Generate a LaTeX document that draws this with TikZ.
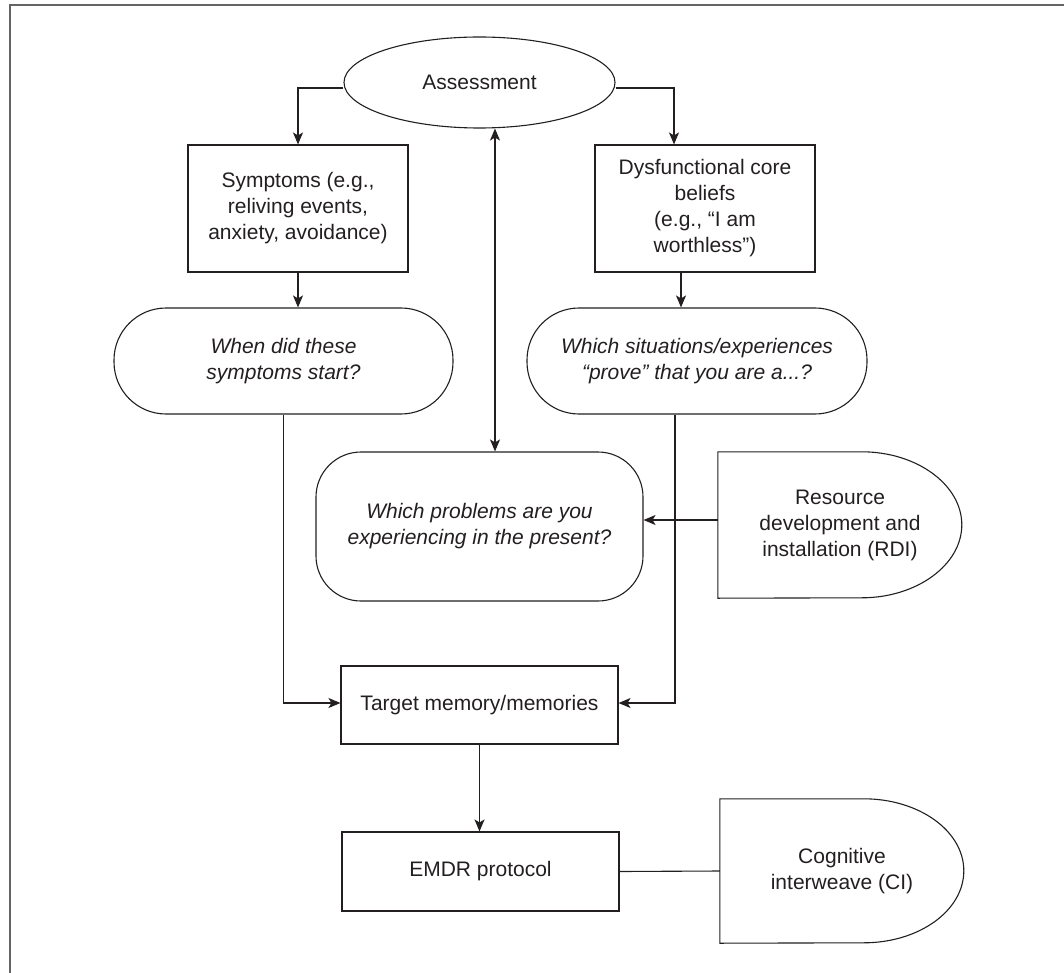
\documentclass[tikz,border=0pt]{standalone}
\usepackage{fontspec}
\setmainfont{Liberation Sans}
\usetikzlibrary{shapes.geometric,arrows.meta,calc}
\definecolor{ink}{RGB}{35,31,32}
\definecolor{framecol}{RGB}{100,100,100}
\begin{document}
\begin{tikzpicture}[x=1pt,y=-1pt,
  every node/.style={font=\fontsize{21}{26}\selectfont, text=ink, align=center, inner sep=0pt},
  box/.style={draw=ink, line width=1.1pt, rectangle},
  oval/.style={draw=ink, line width=1.1pt, ellipse},
  stad/.style={draw=ink, line width=1.1pt, rectangle, rounded corners=52pt, font=\fontsize{21}{26}\selectfont\itshape},
  ln/.style={draw=ink, line width=1.1pt},
  arr/.style={ln, -{Stealth[length=12pt,width=10pt,inset=3pt]}},
  darr/.style={ln, {Stealth[length=12pt,width=10pt,inset=3pt]}-{Stealth[length=12pt,width=10pt,inset=3pt]}}
]
\useasboundingbox (0,0) rectangle (1064,973);
\draw[framecol, line width=2.2pt] (10,975) -- (10,5) -- (1066,5);

% nodes
\node[oval, minimum width=271pt, minimum height=91pt] (assess) at (479.5,82.5) {Assessment};
\node[box, minimum width=220pt, minimum height=127pt] (symp) at (298,208.5) {Symptoms (e.g.,\\reliving events,\\anxiety, avoidance)};
\node[box, minimum width=220pt, minimum height=127pt] (dys) at (705,208.5) {Dysfunctional core\\beliefs\\(e.g., “I am\\worthless”)};
\node[stad, minimum width=339pt, minimum height=106pt] (whens) at (283.5,361) {When did these\\symptoms start?};
\node[stad, minimum width=340pt, minimum height=106pt] (which) at (697,361) {Which situations/experiences\\“prove” that you are a...?};
\node[stad, rounded corners=45pt, minimum width=327pt, minimum height=149pt] (probs) at (479.5,526.5) {Which problems are you\\experiencing in the present?};
\node[minimum width=244pt, minimum height=146pt] (rdi) at (840,525) {Resource\\development and\\installation (RDI)};
\node[box, minimum width=277pt, minimum height=78pt] (target) at (479.5,705) {Target memory/memories};
\node[box, minimum width=277pt, minimum height=79pt] (emdr) at (480.5,871.5) {EMDR protocol};
\node[minimum width=244pt, minimum height=144pt] (ci) at (842,871) {Cognitive\\interweave (CI)};

% D shapes
\draw[ln] (rdi.north west) -- ++(144,0) .. controls +(55,0) and +(0,-40) .. ++(100,73)
  .. controls +(0,40) and +(55,0) .. ++(-100,73) -- (rdi.south west) -- cycle;
\draw[ln] (ci.north west) -- ++(144,0) .. controls +(55,0) and +(0,-40) .. ++(100,72)
  .. controls +(0,40) and +(55,0) .. ++(-100,72) -- (ci.south west) -- cycle;

% helper coordinates
\coordinate (xr) at (674,0);
\coordinate (xd) at (681,0);
\coordinate (xm) at (495,0);
\coordinate (xw) at (675,0);
\coordinate (yr) at (0,520);

% connectors
\draw[arr] ([yshift=-5.5pt]assess.west) -| (symp.north);
\draw[arr] ([yshift=-5.5pt]assess.east) -| (dys.north -| xr);
\draw[arr] (symp.south) -- (symp.south |- whens.north);
\draw[arr] (dys.south -| xd) -- (which.north -| xd);
\draw[darr] (assess.south -| xm) -- (probs.north -| xm);
\draw[arr] (whens.south) |- ([yshift=2pt]target.west);
\draw[arr] (which.south -| xw) |- ([yshift=2pt]target.east);
\draw[arr] (rdi.west |- yr) -- (probs.east |- yr);
\draw[arr] (target.south) -- (target.south |- emdr.north);
\draw[ln] (emdr.east) -- (ci.west);
\end{tikzpicture}
\end{document}
